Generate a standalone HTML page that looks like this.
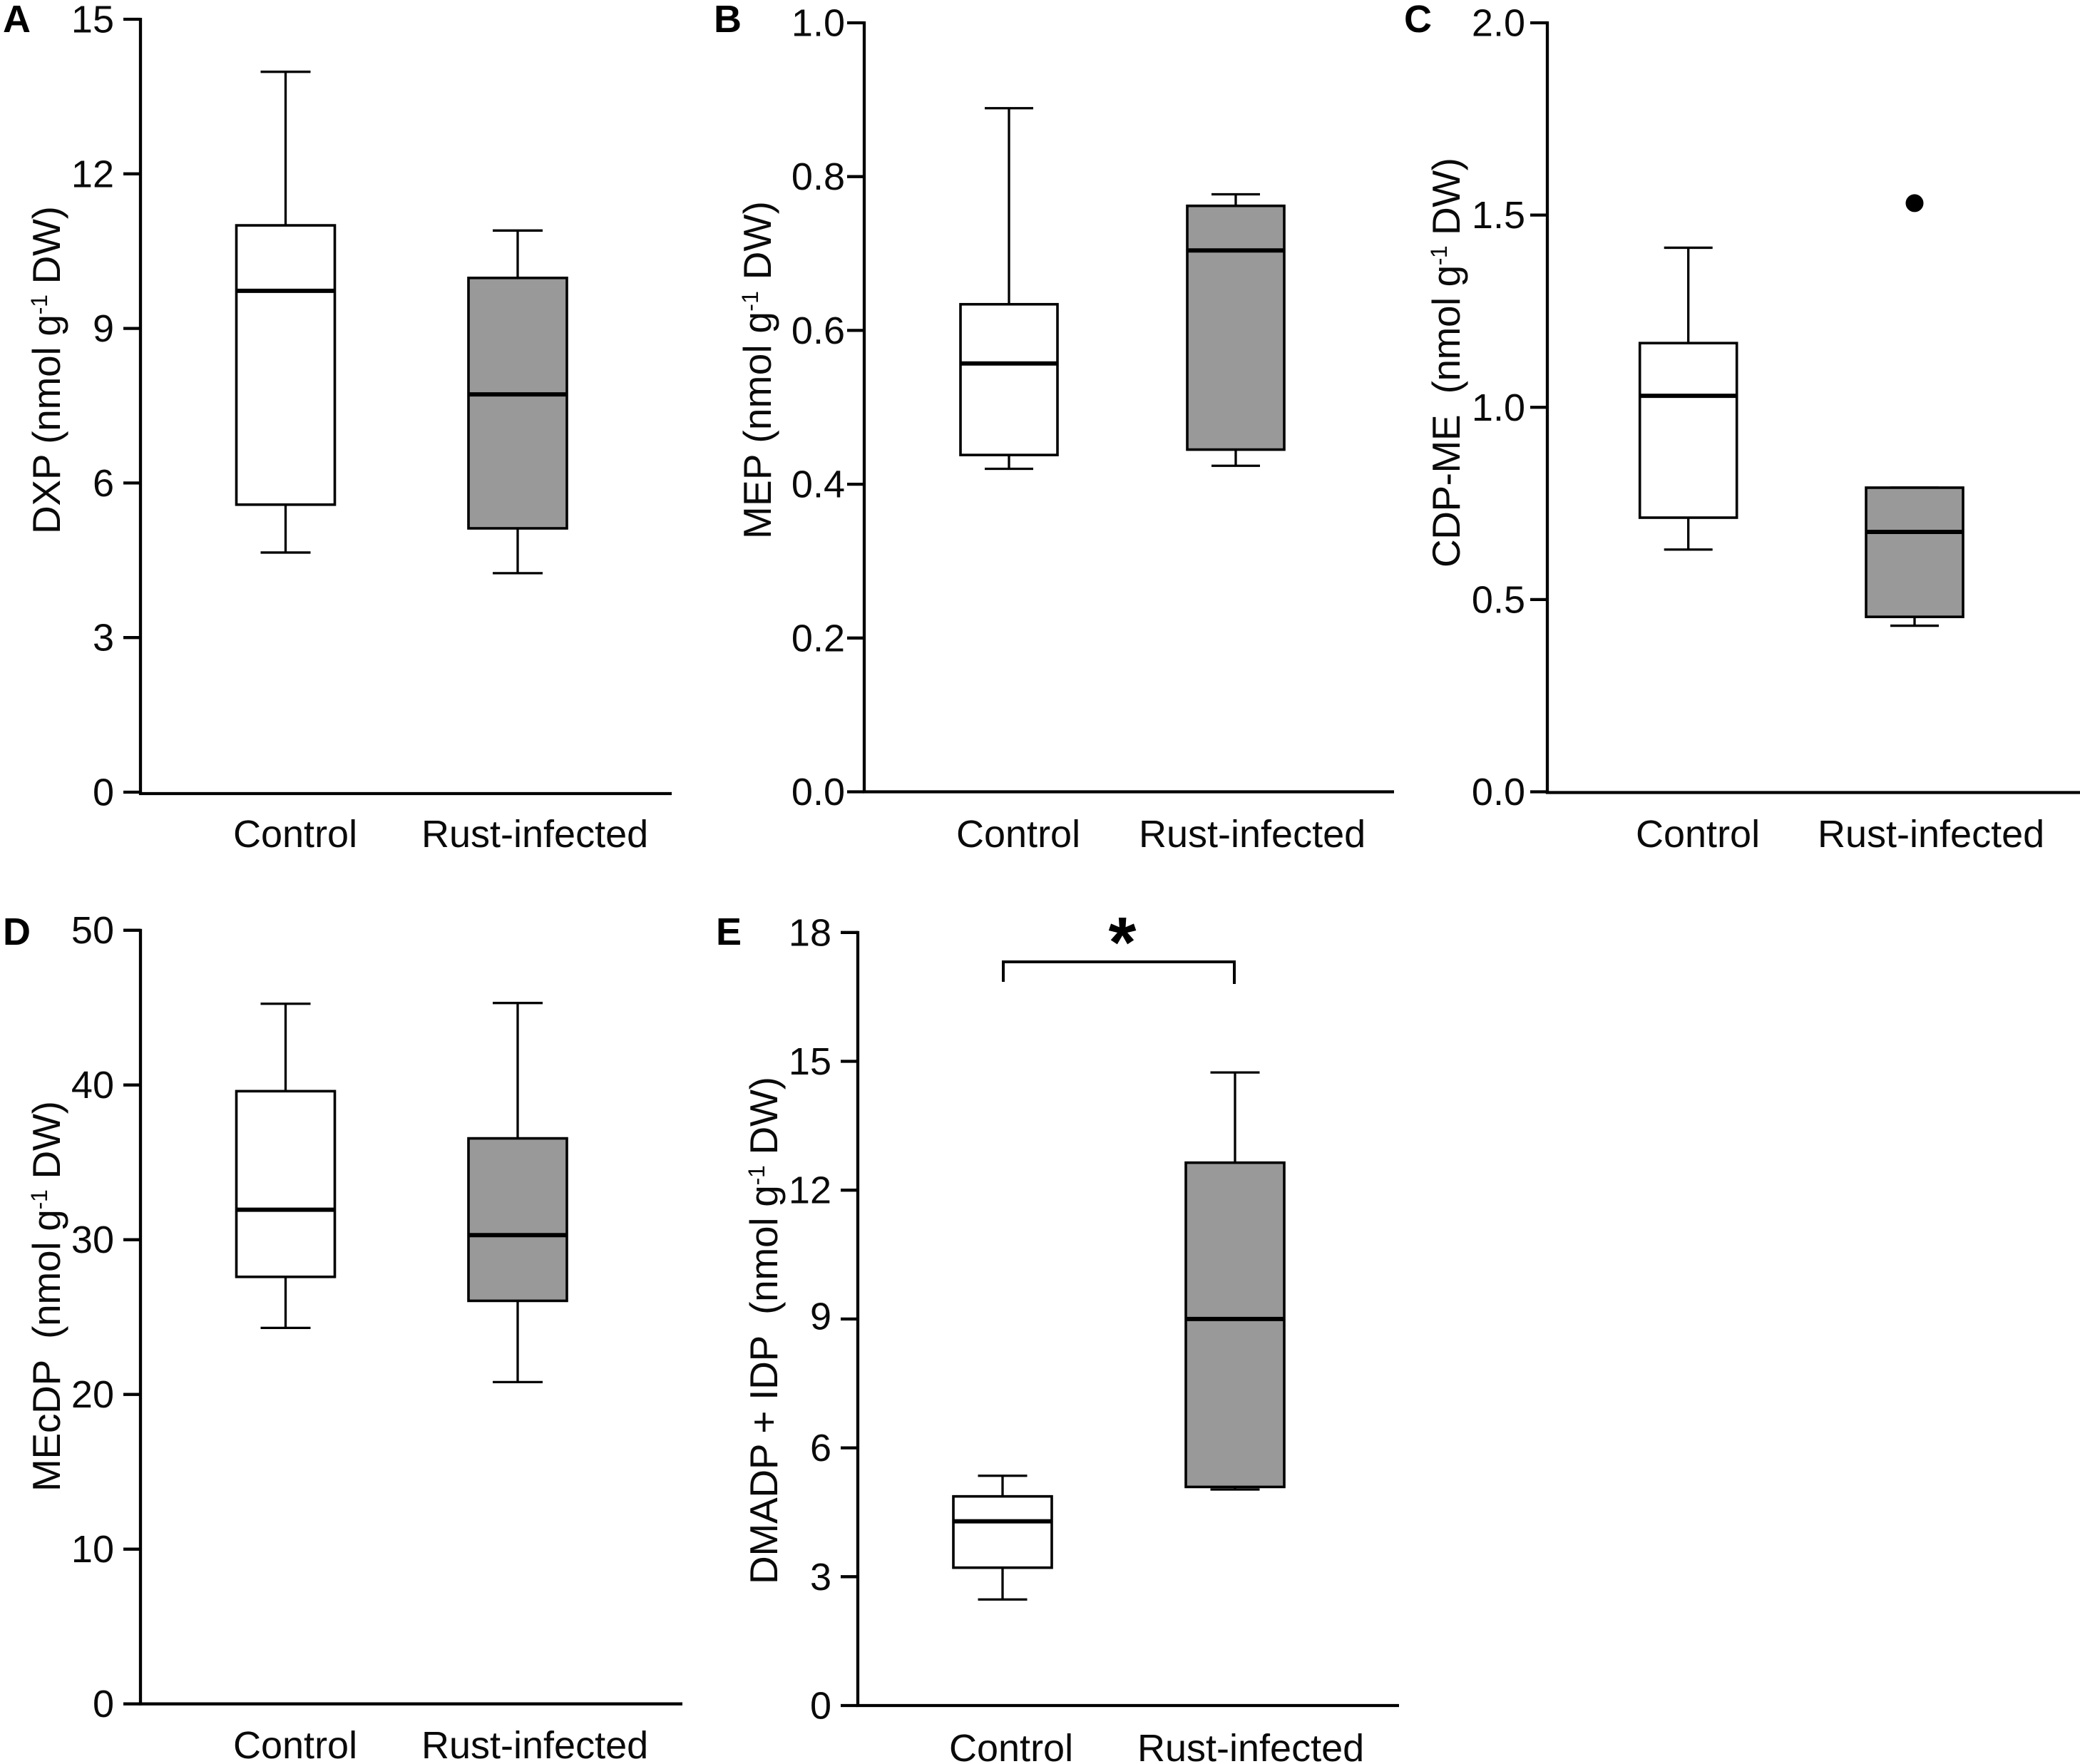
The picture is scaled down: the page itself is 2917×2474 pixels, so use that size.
<!DOCTYPE html>
<html lang="en">
<head>
<meta charset="utf-8">
<title>Metabolite box plots: control vs rust-infected</title>
<style>
html,body{margin:0;padding:0;background:#fff;}
body{width:2917px;height:2474px;overflow:hidden;}
svg{display:block;}
text{font-family:"Liberation Sans",Arial,sans-serif;fill:#0a0a0a;}
.title{font-size:55px;}
.letter{font-size:54px;font-weight:bold;fill:#000;}
</style>
</head>
<body>
<svg id="figure" xmlns="http://www.w3.org/2000/svg" width="2917" height="2474" viewBox="0 0 2917 2474">
  <rect x="0" y="0" width="2917" height="2474" fill="#ffffff"/>

  <text class="letter" x="4" y="45">A</text>
  <text class="letter" x="1001" y="45">B</text>
  <text class="letter" x="1969" y="45">C</text>
  <text class="letter" x="4" y="1325">D</text>
  <text class="letter" x="1004" y="1325">E</text>

  <text class="title" transform="translate(84,749) rotate(-90)" textLength="460">DXP (nmol g<tspan font-size="32" dy="-18">-1</tspan><tspan dy="18"> DW)</tspan></text>
  <text class="title" transform="translate(1081,756) rotate(-90)" textLength="474">MEP (nmol g<tspan font-size="32" dy="-18">-1</tspan><tspan dy="18"> DW)</tspan></text>
  <text class="title" transform="translate(2047,796) rotate(-90)" textLength="575" xml:space="preserve">CDP-ME  (nmol g<tspan font-size="32" dy="-18">-1</tspan><tspan dy="18"> DW)</tspan></text>
  <text class="title" transform="translate(84,2092) rotate(-90)" textLength="548" xml:space="preserve">MEcDP  (nmol g<tspan font-size="32" dy="-18">-1</tspan><tspan dy="18"> DW)</tspan></text>
  <text class="title" transform="translate(1090,2222) rotate(-90)" textLength="712" xml:space="preserve">DMADP + IDP  (nmol g<tspan font-size="32" dy="-18">-1</tspan><tspan dy="18"> DW)</tspan></text>

  <path d="M1407 1377V1349H1731V1380" fill="none" stroke="#000" stroke-width="4"/>
  <text x="1574" y="1356" text-anchor="middle" font-size="100" font-weight="bold" style="fill:#000">*</text>

  <g id="panels"></g>
</svg>

<script>
// Shared categories
const categories = ["Control", "Rust-infected"];

// Tick labels per panel
const ticksA = ["0", "3", "6", "9", "12", "15"];
const ticksB = ["0.0", "0.2", "0.4", "0.6", "0.8", "1.0"];
const ticksC = ["0.0", "0.5", "1.0", "1.5", "2.0"];
const ticksD = ["0", "10", "20", "30", "40", "50"];
const ticksE = ["0", "3", "6", "9", "12", "15", "18"];

// Box statistics: [lower whisker, Q1, median, Q3, upper whisker]
const dxpControl = [4.65, 5.58, 9.73, 11.0, 13.98];
const dxpRust = [4.25, 5.12, 7.72, 9.98, 10.9];
const mepControl = [0.42, 0.438, 0.557, 0.634, 0.889];
const mepRust = [0.424, 0.445, 0.704, 0.762, 0.777];
const cdpmeControl = [0.63, 0.713, 1.03, 1.167, 1.415];
const cdpmeRust = [0.432, 0.455, 0.676, 0.791, 0.791];
const mecdpControl = [24.3, 27.6, 31.94, 39.6, 45.25];
const mecdpRust = [20.8, 26.05, 30.3, 36.55, 45.3];
const dmadpControl = [2.47, 3.21, 4.29, 4.87, 5.35];
const dmadpRust = [5.03, 5.09, 9.0, 12.64, 14.74];

// Outliers
const cdpmeRustOutliers = [1.531];

const panels = [
  {key:"dxp", ticks:ticksA, series:[dxpControl, dxpRust], outliers:[[], []],
   axisX:197, axisEnd:942, yZero:1111, yTop:27, xAxisY:1113, labelX:160, centers:[400.5,726], boxW:138, capW:70,
   catY:1188, catX:[327,591], labelNudge:{}},
  {key:"mep", ticks:ticksB, series:[mepControl, mepRust], outliers:[[], []],
   axisX:1212, axisEnd:1955, yZero:1110.5, yTop:32, xAxisY:1110.5, labelX:1185, centers:[1415,1733], boxW:136, capW:68,
   catY:1188, catX:[1341,1597], labelNudge:{}},
  {key:"cdp-me", ticks:ticksC, series:[cdpmeControl, cdpmeRust], outliers:[[], cdpmeRustOutliers],
   axisX:2170, axisEnd:2917, yZero:1110.5, yTop:32, xAxisY:1111.5, labelX:2139, centers:[2367.7,2685], boxW:136, capW:68,
   catY:1188, catX:[2294,2549], labelNudge:{}},
  {key:"mecdp", ticks:ticksD, series:[mecdpControl, mecdpRust], outliers:[[], []],
   axisX:197, axisEnd:957, yZero:2389.7, yTop:1304.7, xAxisY:2389.7, labelX:160, centers:[400.5,726], boxW:138, capW:70,
   catY:2466, catX:[327,591], labelNudge:{}},
  {key:"dmadp-idp", ticks:ticksE, series:[dmadpControl, dmadpRust], outliers:[[], []],
   axisX:1203, axisEnd:1962, yZero:2392, yTop:1307.8, xAxisY:2392, labelX:1166, centers:[1406,1732], boxW:138, capW:69,
   catY:2470, catX:[1331,1595], labelNudge:{"9":-4}}
];

const SVG_NS = "http://www.w3.org/2000/svg";
const root = document.getElementById("panels");

function make(parent, tag, attrs) {
  const el = document.createElementNS(SVG_NS, tag);
  for (const k in attrs) el.setAttribute(k, attrs[k]);
  parent.appendChild(el);
  return el;
}

function yScale(p, value) {
  const max = parseFloat(p.ticks[p.ticks.length - 1]);
  return p.yZero - (value / max) * (p.yZero - p.yTop);
}

panels.forEach(function (p) {
  const g = make(root, "g", {});
  
  

  const yAxis = make(g, "line", {x1:p.axisX, x2:p.axisX, y1:p.yTop - 2, y2:p.xAxisY + 2, stroke:"#000", "stroke-width":4.3});
  
  

  const xAxis = make(g, "line", {x1:p.axisX - 2, x2:p.axisEnd, y1:p.xAxisY, y2:p.xAxisY, stroke:"#000", "stroke-width":4.3});
  
  

  p.ticks.forEach(function (label) {
    const y = yScale(p, parseFloat(label));
    const tick = make(g, "line", {x1:p.axisX - 24, x2:p.axisX, y1:y, y2:y, stroke:"#000", "stroke-width":4.3});
    
    

    const text = make(g, "text", {x:p.labelX, y:y + 18.5 + (p.labelNudge[label] || 0), "text-anchor":"end", "font-size":54});
    
    
    text.textContent = label;
  });

  categories.forEach(function (cat, i) {
    const text = make(g, "text", {x:p.catX[i], y:p.catY, "font-size":54});
    
    
    text.textContent = cat;

    const s = p.series[i];
    const cx = p.centers[i];
    const yLo = yScale(p, s[0]), yQ1 = yScale(p, s[1]), yMed = yScale(p, s[2]), yQ3 = yScale(p, s[3]), yHi = yScale(p, s[4]);

    const whisker = make(g, "line", {x1:cx, x2:cx, y1:yHi, y2:yLo, stroke:"#000", "stroke-width":3.3});
    
    

    const capHi = make(g, "line", {x1:cx - p.capW / 2, x2:cx + p.capW / 2, y1:yHi, y2:yHi, stroke:"#000", "stroke-width":3.3});
    
    

    const capLo = make(g, "line", {x1:cx - p.capW / 2, x2:cx + p.capW / 2, y1:yLo, y2:yLo, stroke:"#000", "stroke-width":3.3});
    
    

    const box = make(g, "rect", {x:cx - p.boxW / 2, y:yQ3, width:p.boxW, height:yQ1 - yQ3, fill:i === 0 ? "#ffffff" : "#999999", stroke:"#000", "stroke-width":3.6});
    
    

    const median = make(g, "line", {x1:cx - p.boxW / 2, x2:cx + p.boxW / 2, y1:yMed, y2:yMed, stroke:"#000", "stroke-width":6});
    
    

    p.outliers[i].forEach(function (v) {
      const dot = make(g, "circle", {cx:cx, cy:yScale(p, v), r:12.5, fill:"#000"});
      
      
    });
  });
});
</script>
</body>
</html>
